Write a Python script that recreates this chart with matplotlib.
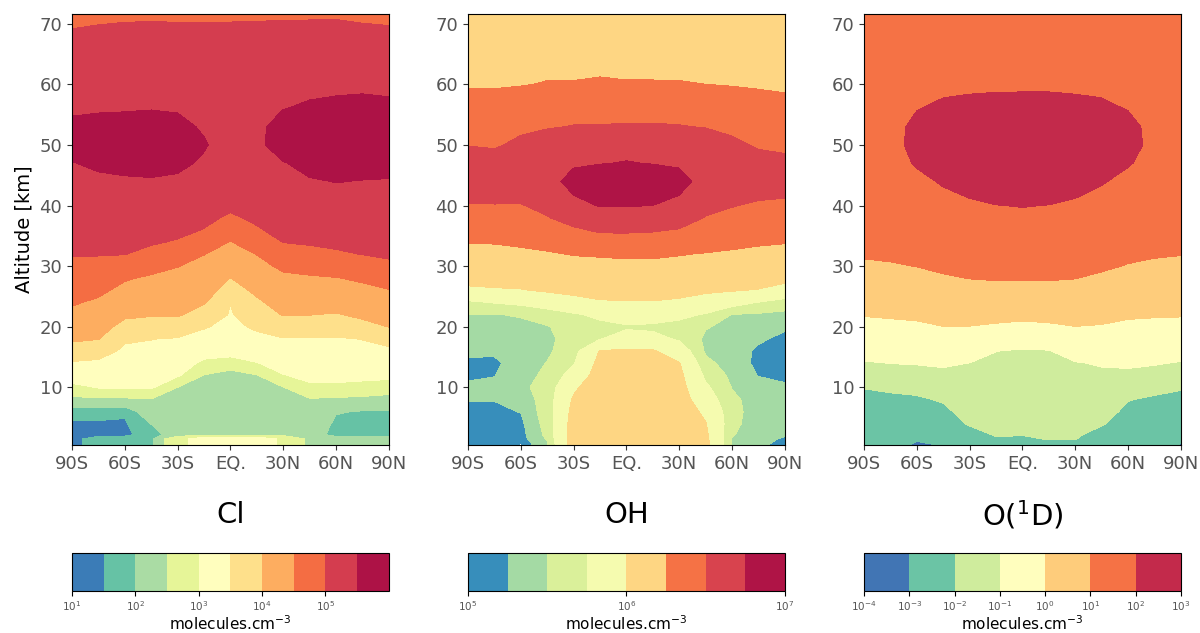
import numpy as np
import matplotlib.pyplot as plt
from matplotlib.colors import LogNorm, ListedColormap

# grid (latitude columns x altitude rows)
LATS = [-90, -75, -60, -45, -30, -15, 0, 15, 30, 45, 60, 75, 90]
ALTS = [0.5, 1.5, 2.2, 4, 6, 8, 10, 12, 14, 16, 18, 20, 22, 24, 26, 28, 30,
        32, 34, 36, 38, 40, 44, 47, 50, 53, 56, 60, 64, 68, 71.6]

LAT_TICKS = [-90, -60, -30, 0, 30, 60, 90]
LAT_LABELS = ['90S', '60S', '30S', 'EQ.', '30N', '60N', '90N']
ALT_TICKS = [10, 20, 30, 40, 50, 60, 70]

# log10 of number density, one list per latitude (bottom -> top)
CL_LOG = [
    [1.3, 1.3, 1.25, 1.38, 1.7, 2.26, 2.85, 3.20, 3.44, 3.77, 4.06, 4.23, 4.39, 4.54, 4.67, 4.79, 4.92, 5.02, 5.08, 5.15, 5.21, 5.27, 5.39, 5.49, 5.6, 5.56, 5.45, 5.32, 5.18, 5.04, 4.9],
    [1.7, 1.7, 1.3, 1.38, 1.72, 2.32, 3.02, 3.21, 3.40, 3.67, 4.01, 4.14, 4.29, 4.43, 4.58, 4.73, 4.88, 5.02, 5.09, 5.16, 5.23, 5.30, 5.44, 5.55, 5.62, 5.58, 5.47, 5.34, 5.20, 5.06, 4.93],
    [1.75, 1.75, 1.3, 1.38, 1.62, 2.29, 3.03, 3.15, 3.28, 3.40, 3.56, 3.84, 4.07, 4.22, 4.37, 4.54, 4.79, 5.01, 5.09, 5.16, 5.24, 5.31, 5.46, 5.58, 5.63, 5.58, 5.48, 5.34, 5.21, 5.07, 4.95],
    [1.8, 1.8, 1.75, 2.01, 2.23, 2.45, 3.04, 3.16, 3.27, 3.39, 3.51, 3.78, 4.03, 4.16, 4.30, 4.43, 4.63, 4.88, 5.04, 5.13, 5.22, 5.30, 5.47, 5.6, 5.64, 5.6, 5.49, 5.35, 5.21, 5.08, 4.95],
    [2.75, 2.75, 2.2, 2.27, 2.34, 2.41, 2.49, 3.04, 3.18, 3.32, 3.46, 3.76, 4.04, 4.15, 4.27, 4.39, 4.51, 4.74, 4.97, 5.08, 5.17, 5.26, 5.44, 5.57, 5.62, 5.58, 5.47, 5.34, 5.21, 5.07, 4.95],
    [3.2, 3.2, 2.3, 2.34, 2.37, 2.41, 2.45, 2.47, 2.9, 3.15, 3.34, 3.53, 3.80, 4.03, 4.15, 4.26, 4.38, 4.51, 4.75, 4.99, 5.06, 5.12, 5.25, 5.45, 5.53, 5.46, 5.38, 5.3, 5.2, 5.07, 4.95],
    [3.2, 3.2, 2.3, 2.32, 2.35, 2.38, 2.42, 2.45, 2.56, 3.2, 3.3, 3.38, 3.45, 3.51, 3.76, 3.99, 4.16, 4.32, 4.48, 4.71, 4.96, 5.05, 5.15, 5.22, 5.3, 5.3, 5.28, 5.24, 5.17, 5.06, 4.96],
    [3.2, 3.2, 2.3, 2.33, 2.36, 2.39, 2.42, 2.46, 2.98, 3.19, 3.38, 3.56, 3.74, 3.92, 4.08, 4.22, 4.36, 4.51, 4.74, 4.97, 5.05, 5.12, 5.25, 5.33, 5.38, 5.38, 5.36, 5.3, 5.19, 5.07, 4.96],
    [2.9, 2.9, 2.3, 2.35, 2.39, 2.43, 2.47, 2.98, 3.16, 3.31, 3.47, 3.74, 4.02, 4.15, 4.28, 4.41, 4.57, 4.80, 5.01, 5.08, 5.15, 5.23, 5.38, 5.48, 5.68, 5.65, 5.49, 5.36, 5.22, 5.08, 4.96],
    [2.3, 2.3, 2.2, 2.26, 2.33, 2.42, 2.9, 3.11, 3.23, 3.35, 3.47, 3.71, 4.01, 4.15, 4.29, 4.44, 4.64, 4.88, 5.04, 5.13, 5.21, 5.30, 5.47, 5.6, 5.68, 5.66, 5.55, 5.39, 5.24, 5.09, 4.96],
    [2.2, 2.2, 1.8, 1.91, 2.03, 2.33, 2.91, 3.11, 3.22, 3.34, 3.46, 3.69, 3.97, 4.15, 4.31, 4.48, 4.71, 4.95, 5.07, 5.16, 5.24, 5.33, 5.51, 5.62, 5.7, 5.68, 5.58, 5.41, 5.26, 5.1, 4.96],
    [2.2, 2.2, 1.8, 1.89, 1.97, 2.29, 2.83, 3.11, 3.24, 3.37, 3.51, 3.83, 4.08, 4.23, 4.38, 4.56, 4.80, 5.01, 5.09, 5.17, 5.25, 5.33, 5.49, 5.62, 5.7, 5.68, 5.6, 5.42, 5.25, 5.08, 4.93],
    [2.2, 2.2, 1.8, 1.89, 1.97, 2.26, 2.71, 3.10, 3.25, 3.40, 3.63, 4.01, 4.16, 4.32, 4.48, 4.69, 4.92, 5.05, 5.12, 5.19, 5.26, 5.33, 5.48, 5.6, 5.68, 5.66, 5.57, 5.41, 5.23, 5.06, 4.92],
]

OH_LOG = [
    [5.12, 5.12, 5.12, 5.14, 5.18, 5.26, 5.3, 5.2, 5.21, 5.29, 5.34, 5.4, 5.49, 5.7, 5.96, 6.06, 6.12, 6.19, 6.26, 6.33, 6.41, 6.48, 6.64, 6.62, 6.49, 6.41, 6.33, 6.23, 6.17, 6.12, 6.08],
    [5.13, 5.13, 5.13, 5.15, 5.19, 5.26, 5.31, 5.24, 5.2, 5.29, 5.35, 5.42, 5.49, 5.76, 5.98, 6.06, 6.13, 6.2, 6.26, 6.33, 6.41, 6.49, 6.63, 6.6, 6.47, 6.4, 6.33, 6.23, 6.17, 6.12, 6.08],
    [4.97, 5.1, 5.12, 5.17, 5.26, 5.34, 5.45, 5.4, 5.36, 5.37, 5.4, 5.44, 5.52, 5.8, 5.99, 6.07, 6.14, 6.21, 6.28, 6.35, 6.42, 6.49, 6.6, 6.63, 6.55, 6.45, 6.36, 6.24, 6.18, 6.12, 6.08],
    [5.45, 5.52, 5.55, 5.58, 5.6, 5.6, 5.58, 5.55, 5.51, 5.45, 5.44, 5.48, 5.64, 5.85, 6.02, 6.09, 6.16, 6.23, 6.31, 6.4, 6.49, 6.55, 6.66, 6.7, 6.62, 6.48, 6.39, 6.26, 6.19, 6.13, 6.09],
    [6.08, 6.08, 6.08, 6.07, 6.05, 6.02, 5.97, 5.84, 5.73, 5.65, 5.6, 5.62, 5.72, 5.92, 6.05, 6.11, 6.18, 6.26, 6.36, 6.47, 6.58, 6.69, 6.82, 6.72, 6.64, 6.51, 6.4, 6.26, 6.19, 6.13, 6.09],
    [6.15, 6.15, 6.15, 6.14, 6.13, 6.12, 6.1, 6.08, 6.05, 6.01, 5.74, 5.68, 5.8, 5.98, 6.06, 6.12, 6.19, 6.27, 6.4, 6.53, 6.64, 6.76, 6.88, 6.74, 6.66, 6.51, 6.41, 6.27, 6.2, 6.14, 6.1],
    [6.16, 6.16, 6.16, 6.15, 6.14, 6.13, 6.11, 6.09, 6.06, 6.02, 5.84, 5.72, 5.88, 5.99, 6.06, 6.13, 6.2, 6.28, 6.41, 6.53, 6.65, 6.76, 6.9, 6.76, 6.67, 6.52, 6.41, 6.26, 6.2, 6.14, 6.1],
    [6.16, 6.16, 6.16, 6.15, 6.14, 6.13, 6.11, 6.09, 6.06, 6.02, 5.82, 5.7, 5.87, 5.99, 6.06, 6.13, 6.2, 6.28, 6.4, 6.52, 6.64, 6.75, 6.88, 6.74, 6.66, 6.52, 6.41, 6.26, 6.2, 6.14, 6.1],
    [6.12, 6.12, 6.12, 6.11, 6.1, 6.08, 6.06, 6.04, 6.01, 5.88, 5.72, 5.68, 5.8, 5.97, 6.05, 6.12, 6.19, 6.26, 6.38, 6.49, 6.6, 6.69, 6.82, 6.72, 6.64, 6.51, 6.4, 6.26, 6.19, 6.13, 6.09],
    [6.05, 6.04, 6.03, 6.01, 5.96, 5.87, 5.79, 5.7, 5.56, 5.46, 5.44, 5.52, 5.73, 5.9, 6.03, 6.1, 6.17, 6.24, 6.33, 6.41, 6.49, 6.56, 6.66, 6.7, 6.62, 6.49, 6.38, 6.25, 6.19, 6.13, 6.09],
    [5.46, 5.49, 5.52, 5.56, 5.57, 5.55, 5.49, 5.42, 5.38, 5.37, 5.38, 5.42, 5.49, 5.84, 6.01, 6.08, 6.15, 6.22, 6.3, 6.37, 6.44, 6.51, 6.61, 6.62, 6.55, 6.44, 6.35, 6.24, 6.18, 6.12, 6.08],
    [5.3, 5.32, 5.33, 5.36, 5.38, 5.38, 5.34, 5.24, 5.18, 5.2, 5.29, 5.37, 5.46, 5.74, 5.99, 6.07, 6.14, 6.21, 6.27, 6.34, 6.41, 6.47, 6.6, 6.58, 6.47, 6.39, 6.32, 6.23, 6.17, 6.12, 6.08],
    [5.15, 5.22, 5.27, 5.33, 5.36, 5.34, 5.28, 5.2, 5.14, 5.12, 5.18, 5.29, 5.42, 5.64, 5.92, 6.05, 6.12, 6.19, 6.26, 6.33, 6.39, 6.46, 6.58, 6.55, 6.45, 6.38, 6.3, 6.22, 6.17, 6.12, 6.08],
]

O1D_LOG = [
    [-2.7, -2.65, -2.6, -2.5, -2.38, -2.2, -1.98, -1.52, -1.07, -0.77, -0.5, -0.23, 0.03, 0.25, 0.46, 0.68, 0.89, 1.06, 1.17, 1.28, 1.38, 1.46, 1.6, 1.68, 1.72, 1.73, 1.72, 1.68, 1.63, 1.58, 1.55],
    [-2.7, -2.65, -2.6, -2.48, -2.35, -2.17, -1.9, -1.45, -0.99, -0.73, -0.46, -0.19, 0.07, 0.29, 0.51, 0.73, 0.95, 1.08, 1.19, 1.3, 1.4, 1.5, 1.64, 1.7, 1.74, 1.74, 1.72, 1.68, 1.63, 1.58, 1.55],
    [-3.2, -2.9, -2.8, -2.6, -2.4, -2.15, -1.8, -1.37, -0.96, -0.69, -0.41, -0.14, 0.11, 0.34, 0.57, 0.8, 1.01, 1.12, 1.24, 1.36, 1.48, 1.6, 1.85, 2.05, 2.15, 2.12, 1.98, 1.85, 1.72, 1.62, 1.57],
    [-2.95, -2.8, -2.7, -2.5, -2.25, -1.92, -1.56, -1.22, -0.91, -0.61, -0.31, -0.01, 0.22, 0.46, 0.7, 0.93, 1.1, 1.23, 1.37, 1.5, 1.64, 1.78, 2.05, 2.2, 2.3, 2.25, 2.08, 1.87, 1.74, 1.64, 1.58],
    [-2.6, -2.45, -2.35, -1.94, -1.75, -1.56, -1.38, -1.19, -1.01, -0.69, -0.35, -0.02, 0.24, 0.5, 0.77, 1.01, 1.15, 1.3, 1.44, 1.59, 1.74, 1.88, 2.2, 2.3, 2.38, 2.32, 2.13, 1.88, 1.75, 1.64, 1.58],
    [-2.3, -2.05, -1.95, -1.83, -1.69, -1.55, -1.42, -1.28, -1.14, -0.99, -0.56, -0.12, 0.2, 0.49, 0.78, 1.04, 1.2, 1.36, 1.52, 1.68, 1.84, 1.99, 2.25, 2.35, 2.4, 2.35, 2.15, 1.9, 1.76, 1.65, 1.59],
    [-2.3, -2.1, -1.98, -1.86, -1.73, -1.6, -1.47, -1.34, -1.2, -1.07, -0.76, -0.24, 0.17, 0.47, 0.77, 1.04, 1.21, 1.38, 1.54, 1.71, 1.88, 2.02, 2.28, 2.38, 2.42, 2.36, 2.16, 1.9, 1.76, 1.65, 1.59],
    [-2.2, -1.97, -1.93, -1.82, -1.69, -1.56, -1.43, -1.3, -1.17, -1.04, -0.67, -0.15, 0.2, 0.49, 0.78, 1.04, 1.2, 1.36, 1.52, 1.68, 1.84, 1.99, 2.25, 2.35, 2.4, 2.35, 2.16, 1.9, 1.76, 1.65, 1.59],
    [-2.2, -1.98, -1.93, -1.8, -1.65, -1.5, -1.35, -1.2, -1.05, -0.74, -0.37, -0.01, 0.25, 0.51, 0.76, 1.01, 1.15, 1.3, 1.44, 1.59, 1.74, 1.88, 2.2, 2.3, 2.38, 2.32, 2.13, 1.88, 1.75, 1.64, 1.58],
    [-2.5, -2.35, -2.25, -1.95, -1.75, -1.55, -1.35, -1.16, -0.94, -0.65, -0.35, -0.06, 0.19, 0.42, 0.66, 0.89, 1.08, 1.21, 1.35, 1.49, 1.62, 1.76, 2.04, 2.2, 2.3, 2.25, 2.08, 1.87, 1.74, 1.64, 1.58],
    [-2.7, -2.6, -2.55, -2.45, -2.25, -1.96, -1.58, -1.2, -0.89, -0.65, -0.4, -0.16, 0.08, 0.3, 0.52, 0.75, 0.97, 1.1, 1.23, 1.35, 1.48, 1.6, 1.84, 2.04, 2.15, 2.12, 1.98, 1.85, 1.72, 1.62, 1.57],
    [-2.8, -2.7, -2.65, -2.55, -2.38, -2.18, -1.78, -1.35, -0.95, -0.69, -0.44, -0.19, 0.05, 0.27, 0.47, 0.68, 0.89, 1.05, 1.16, 1.28, 1.39, 1.5, 1.68, 1.78, 1.83, 1.82, 1.77, 1.7, 1.64, 1.58, 1.55],
    [-3.05, -2.85, -2.75, -2.6, -2.45, -2.25, -1.94, -1.49, -1.05, -0.79, -0.51, -0.23, 0.04, 0.24, 0.44, 0.64, 0.84, 1.02, 1.12, 1.23, 1.33, 1.43, 1.6, 1.68, 1.72, 1.73, 1.72, 1.68, 1.63, 1.58, 1.55],
]

# contour levels (exponents)
CL_LEVELS = [1, 1.5, 2, 2.5, 3, 3.5, 4, 4.5, 5, 5.5, 6]
OH_LEVELS = [5, 5.25, 5.5, 5.75, 6, 6.25, 6.5, 6.75, 7]
O1D_LEVELS = [-4, -3, -2, -1, 0, 1, 2, 3]

# labelled decades on each colour bar
CL_CBAR_TICKS = [1e1, 1e2, 1e3, 1e4, 1e5]
OH_CBAR_TICKS = [1e5, 1e6, 1e7]
O1D_CBAR_TICKS = [1e-4, 1e-3, 1e-2, 1e-1, 1e0, 1e1, 1e2, 1e3]

# position in Spectral_r of each band's colour
CL_CPOS = [0.08, 0.2, 0.3, 0.4, 0.5, 0.6, 0.7, 0.8, 0.9, 0.97]
OH_CPOS = [0.11, 0.29, 0.38, 0.46, 0.62, 0.79, 0.89, 0.965]
O1D_CPOS = [0.07, 0.21, 0.36, 0.5, 0.64, 0.79, 0.93]

PANELS = [
    ('Cl', CL_LOG, CL_LEVELS, CL_CBAR_TICKS, CL_CPOS),
    ('OH', OH_LOG, OH_LEVELS, OH_CBAR_TICKS, OH_CPOS),
    ('O($^1$D)', O1D_LOG, O1D_LEVELS, O1D_CBAR_TICKS, O1D_CPOS),
]

TICK_GREY = '#555555'
spectral = plt.get_cmap('Spectral_r')

fig = plt.figure(figsize=(12, 6.33), dpi=100)

ax_left = [0.060, 0.390, 0.720]
ax_w = 0.264

for i, (name, data, lev, cticks, cpos) in enumerate(PANELS):
    ax = fig.add_axes([ax_left[i], 0.297, ax_w, 0.681])
    field = 10 ** np.array(data).T
    levels = 10.0 ** np.array(lev)
    cmap = ListedColormap([spectral(p) for p in cpos])
    cs = ax.contourf(LATS, ALTS, field, levels=levels, cmap=cmap,
                     norm=LogNorm(vmin=levels[0], vmax=levels[-1]))
    ax.set_xlim(-90, 90)
    ax.set_ylim(0.5, 71.6)
    ax.set_xticks(LAT_TICKS)
    ax.set_xticklabels(LAT_LABELS)
    ax.set_yticks(ALT_TICKS)
    ax.tick_params(labelsize=13, labelcolor=TICK_GREY, color='#333333')
    if i == 0:
        ax.set_ylabel('Altitude [km]', fontsize=14)

    fig.text(ax_left[i] + ax_w / 2, 0.186, name, fontsize=21,
             ha='center', va='center')

    cax = fig.add_axes([ax_left[i], 0.066, ax_w, 0.060])
    cb = fig.colorbar(cs, cax=cax, orientation='horizontal')
    cb.set_ticks(cticks)
    cb.ax.tick_params(labelsize=7.5, labelcolor=TICK_GREY, pad=2)
    cb.set_label('molecules.cm$^{-3}$', fontsize=11, labelpad=1)

fig.savefig('out.png', dpi=100)
